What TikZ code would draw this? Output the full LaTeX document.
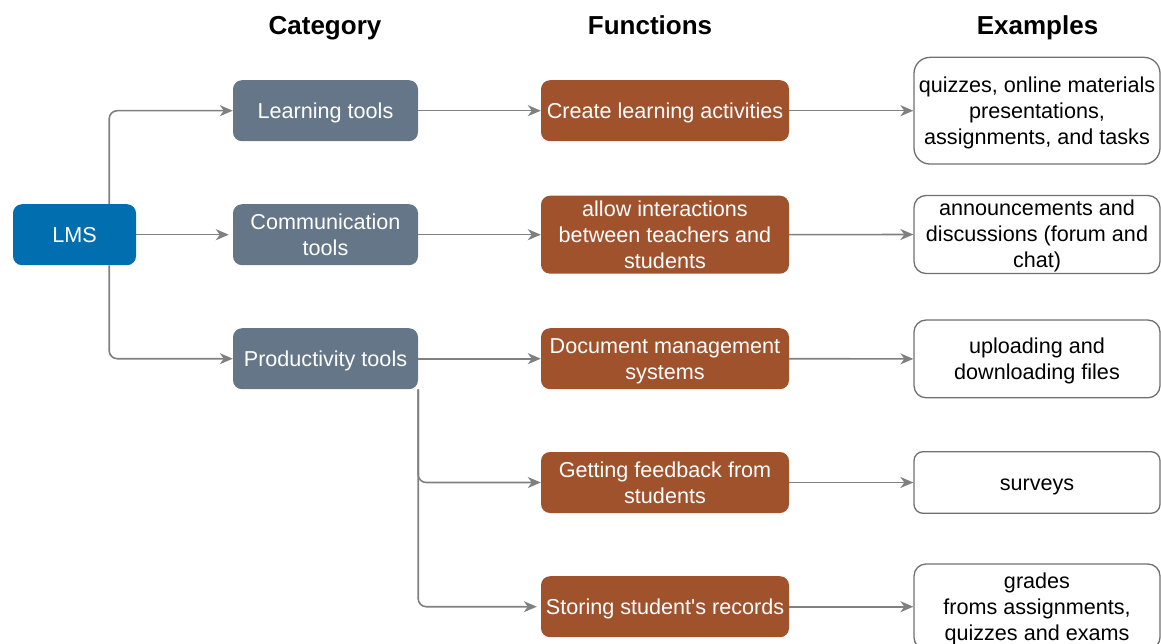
\documentclass[tikz,border=0pt]{standalone}
\usepackage{fontspec}
\setmainfont{Liberation Sans}
\usetikzlibrary{arrows.meta,calc}
\definecolor{lmsblue}{HTML}{006EAF}
\definecolor{catgray}{HTML}{647687}
\definecolor{funcbrown}{HTML}{A0522D}
\definecolor{linegray}{HTML}{808080}
\definecolor{boxgray}{HTML}{707070}
\newcommand\dstrut{\rule[-5.5pt]{0pt}{26pt}}
\begin{document}
\begin{tikzpicture}[x=1pt,y=-1pt,
 font=\fontsize{21.6}{26}\selectfont,
 base/.style={rounded corners=9pt, inner sep=0pt, align=center, anchor=center},
 lmsbox/.style={base, fill=lmsblue, text=white, minimum width=123pt, minimum height=61pt},
 catbox/.style={base, fill=catgray, text=white, minimum width=185pt, minimum height=61pt},
 funcbox/.style={base, fill=funcbrown, text=white, minimum width=248pt, minimum height=61pt},
 exbox/.style={base, draw=boxgray, line width=1.3pt, fill=white, text=black, minimum width=246pt},
 header/.style={font=\fontsize{26}{31}\selectfont\bfseries, anchor=base},
 conn/.style={draw=linegray, line width=1.6pt, rounded corners=8pt, -{Stealth[length=13pt,width=11pt,inset=4pt]}}
]
\useasboundingbox (0,0) rectangle (1161,644);
\clip (0,0) rectangle (1161,644);

% headers
\node[header] (hcat) at (325,35) {Category};
\node[header] (hfun) at (650,35) {Functions};
\node[header] (hex) at (1037.5,35) {Examples};

% nodes
\node[lmsbox] (lms) at (74.5,234.7) {\dstrut LMS};
\node[catbox] (learn) at (325.5,110.7) {\dstrut Learning tools};
\node[catbox] (comm) at (325.5,234.7) {\dstrut Communication\\tools\dstrut};
\node[catbox] (prod) at (325.5,358.7) {\dstrut Productivity tools};

\node[funcbox] (create) at (665,110.7) {\dstrut Create learning activities};
\node[funcbox, minimum height=77pt] (allow) at (665,234.7) {\dstrut allow interactions\\between teachers and\\students\dstrut};
\node[funcbox] (doc) at (665,358.7) {\dstrut Document management\\systems\dstrut};
\node[funcbox] (feed) at (665,482.5) {\dstrut Getting feedback from\\students\dstrut};
\node[funcbox] (store) at (665,606.7) {\dstrut Storing student\textquotesingle s records};

\node[exbox, minimum height=106.7pt, rounded corners=16pt] (quiz) at (1037,110.7) {\dstrut quizzes, online materials\\presentations,\\assignments, and tasks\dstrut};
\node[exbox, minimum height=77.6pt, rounded corners=12pt] (ann) at (1037,234.5) {\dstrut announcements and\\discussions (forum and\\chat)\dstrut};
\node[exbox, minimum height=77.7pt, rounded corners=12pt] (upl) at (1037,358.9) {\dstrut uploading and\\downloading files\dstrut};
\node[exbox, minimum height=61.6pt, rounded corners=9pt] (surv) at (1037,482.5) {\dstrut surveys};
\node[exbox, minimum height=85.4pt, rounded corners=12pt] (grades) at (1037,606.7) {\dstrut grades\\froms assignments,\\quizzes and exams\dstrut};

% connectors
\draw[conn] ([xshift=-27pt]lms.north east) |- (learn.west);
\draw[conn, shorten >=4pt] (lms.east) -- (comm.west);
\draw[conn] ([xshift=-27pt]lms.south east) |- (prod.west);

\draw[conn] (learn.east) -- (create.west);
\draw[conn] (comm.east) -- (allow.west);
\draw[conn] (prod.east) -- (doc.west);
\draw[conn] (prod.south east) |- (feed.west);
\draw[conn, shorten >=4pt] (prod.south east) |- (store.west);

\draw[conn] (create.east) -- (quiz.west);
\draw[conn] (allow.east) -- (ann.west);
\draw[conn] (doc.east) -- (upl.west);
\draw[conn] (feed.east) -- (surv.west);
\draw[conn] (store.east) -- (grades.west);
\end{tikzpicture}
\end{document}
